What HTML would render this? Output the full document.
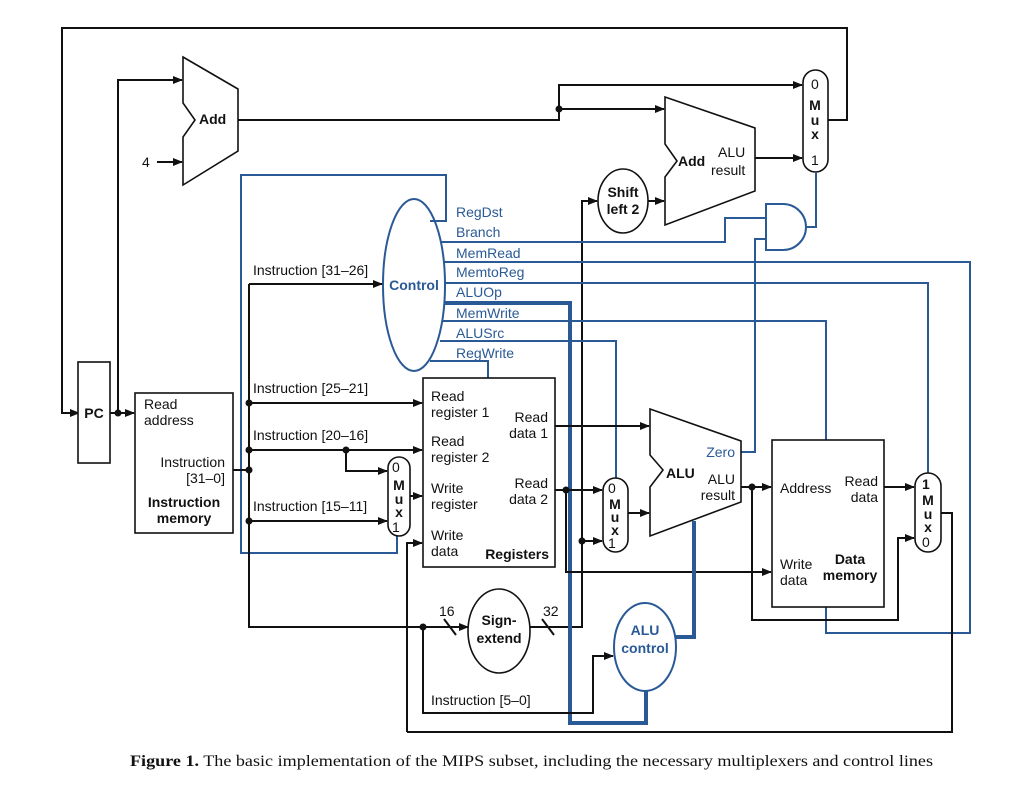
<!DOCTYPE html>
<html><head><meta charset="utf-8"><style>
html,body{margin:0;padding:0;background:#fff;}
svg{display:block;}
text{font-family:"Liberation Sans",Arial,sans-serif;font-size:14px;fill:#111;}
.b{font-weight:bold;}
.bl{fill:#2a5a96;}
.k{stroke:#111;stroke-width:2;fill:none;}
.kf{stroke:#111;stroke-width:1.6;fill:#fff;}
.u{stroke:#2a5a96;stroke-width:2;fill:none;}
.ut{stroke:#2a5a96;stroke-width:4;fill:none;}
</style></head><body>
<svg width="1024" height="796" viewBox="0 0 1024 796" xmlns="http://www.w3.org/2000/svg">
<defs>
<marker id="a" markerWidth="10" markerHeight="8" refX="9" refY="4" orient="auto" markerUnits="userSpaceOnUse"><path d="M0,0 L10,4 L0,8 z" fill="#111"/></marker>
</defs>
<rect width="1024" height="796" fill="#fff"/>

<!-- outer loop -->
<path class="k" d="M80,413 L62,413 L62,28 L847,28 L847,120 L828,120" />
<path class="k" d="M62,413 L79,413" marker-end="url(#a)"/>
<!-- PC -->
<rect class="kf" x="78" y="362" width="32" height="101"/>
<text x="94" y="418" text-anchor="middle" class="b">PC</text>
<path class="k" d="M110,413 L134,413" marker-end="url(#a)"/>
<circle cx="118" cy="413" r="3.5" fill="#111"/>
<path class="k" d="M118,413 L118,80 L182,80" marker-end="url(#a)"/>
<!-- Add -->
<path class="kf" d="M183,57 L238,89 L238,151 L183,185 L183,137 L195,120 L183,103 Z"/>
<text x="199" y="124" class="b">Add</text>
<text x="142" y="167">4</text>
<path class="k" d="M157,162 L182,162" marker-end="url(#a)"/>
<path class="k" d="M238,120 L559,120 L559,85 L802,85" marker-end="url(#a)"/>
<circle cx="559" cy="109" r="3.5" fill="#111"/>
<path class="k" d="M559,109 L664,109" marker-end="url(#a)"/>
<!-- branch add -->
<path class="kf" d="M665,97 L755,128 L755,191 L665,225 L665,177 L677,161 L665,144 Z"/>
<text x="678" y="166" class="b">Add</text>
<text x="718" y="157">ALU</text>
<text x="711" y="175">result</text>
<path class="k" d="M755,158 L802,158" marker-end="url(#a)"/>
<!-- top mux -->
<rect class="kf" x="803" y="70" width="25" height="102" rx="12.5"/>
<text x="811" y="89" font-size="13">0</text>
<text x="815" y="110" text-anchor="middle" class="b" font-size="13">M</text>
<text x="815" y="125" text-anchor="middle" class="b" font-size="13">u</text>
<text x="815" y="139" text-anchor="middle" class="b" font-size="13">x</text>
<text x="811" y="165" font-size="13">1</text>
<!-- shift left 2 -->
<ellipse class="kf" cx="623" cy="201" rx="25" ry="32"/>
<text x="623" y="197" text-anchor="middle" class="b">Shift</text>
<text x="623" y="214" text-anchor="middle" class="b">left 2</text>
<path class="k" d="M648,201 L664,201" marker-end="url(#a)"/>
<path class="k" d="M530,627 L582,627 L582,201 L597,201" marker-end="url(#a)"/>
<!-- AND gate -->
<path class="u" d="M766,204 L783,204 A23,23 0 0 1 783,250 L766,250 Z" fill="#fff"/>
<path class="u" d="M806,227 L816,227 L816,172"/>
<path class="u" d="M440,242 L725,242 L725,218 L766,218"/>
<path class="u" d="M735,452 L755,452 L755,239 L766,239"/>

<!-- Control -->
<path class="u" d="M430,221 L446,221 L446,175 L241,175 L241,553 L397,553 L397,536"/>
<ellipse cx="414" cy="285" rx="31" ry="86" fill="#fff" class="u" stroke-width="1.6"/>
<text x="414" y="290" text-anchor="middle" class="b bl">Control</text>
<path class="k" d="M249,284 L382,284" marker-end="url(#a)"/>
<text x="253" y="275">Instruction [31–26]</text>
<text x="456" y="217" class="bl">RegDst</text>
<text x="456" y="237" class="bl">Branch</text>
<text x="456" y="258" class="bl">MemRead</text>
<text x="456" y="277" class="bl">MemtoReg</text>
<text x="456" y="297" class="bl">ALUOp</text>
<text x="456" y="318" class="bl">MemWrite</text>
<text x="456" y="338" class="bl">ALUSrc</text>
<text x="456" y="358" class="bl">RegWrite</text>
<path class="u" d="M443,262 L970,262 L970,633 L826,633 L826,606"/>
<path class="u" d="M444,283 L928,283 L928,473"/>
<path class="ut" d="M445,303 L570,303 L570,723 L646,723 L646,691"/>
<path class="u" d="M443,321 L826,321 L826,440"/>
<path class="u" d="M440,341 L616,341 L616,478"/>
<path class="u" d="M430,361 L488,361 L488,378"/>

<!-- instruction memory -->
<rect class="kf" x="135" y="393" width="98" height="140"/>
<text x="144" y="409">Read</text>
<text x="144" y="425">address</text>
<text x="225" y="467" text-anchor="end">Instruction</text>
<text x="225" y="483" text-anchor="end">[31–0]</text>
<text x="184" y="507" text-anchor="middle" class="b">Instruction</text>
<text x="184" y="523" text-anchor="middle" class="b">memory</text>
<path class="k" d="M233,470 L249,470 M249,284 L249,627 L468,627" />
<path class="k" d="M460,627 L468,627" marker-end="url(#a)"/>
<circle cx="249" cy="403" r="3.5" fill="#111"/>
<circle cx="249" cy="450" r="3.5" fill="#111"/>
<circle cx="249" cy="470" r="3.5" fill="#111"/>
<circle cx="249" cy="521" r="3.5" fill="#111"/>
<text x="253" y="393">Instruction [25–21]</text>
<path class="k" d="M249,403 L422,403" marker-end="url(#a)"/>
<text x="253" y="440">Instruction [20–16]</text>
<path class="k" d="M249,450 L422,450" marker-end="url(#a)"/>
<circle cx="346" cy="450" r="3.5" fill="#111"/>
<path class="k" d="M346,450 L346,471 L387,471" marker-end="url(#a)"/>
<text x="253" y="511">Instruction [15–11]</text>
<path class="k" d="M249,521 L387,521" marker-end="url(#a)"/>
<!-- reg mux -->
<rect class="kf" x="388" y="457" width="22" height="79" rx="11"/>
<text x="392" y="472" font-size="13">0</text>
<text x="399" y="490" text-anchor="middle" class="b" font-size="13">M</text>
<text x="399" y="504" text-anchor="middle" class="b" font-size="13">u</text>
<text x="399" y="517" text-anchor="middle" class="b" font-size="13">x</text>
<text x="392" y="532" font-size="13">1</text>
<path class="k" d="M410,496 L422,496" marker-end="url(#a)"/>

<!-- registers -->
<rect class="kf" x="423" y="378" width="132" height="189"/>
<text x="431" y="401">Read</text>
<text x="431" y="417">register 1</text>
<text x="548" y="422" text-anchor="end">Read</text>
<text x="548" y="438" text-anchor="end">data 1</text>
<text x="431" y="446">Read</text>
<text x="431" y="462">register 2</text>
<text x="431" y="493">Write</text>
<text x="431" y="509">register</text>
<text x="548" y="488" text-anchor="end">Read</text>
<text x="548" y="504" text-anchor="end">data 2</text>
<text x="431" y="540">Write</text>
<text x="431" y="556">data</text>
<text x="549" y="559" text-anchor="end" class="b">Registers</text>
<path class="k" d="M407,732 L407,543 L422,543" marker-end="url(#a)"/>
<path class="k" d="M941,513 L952,513 L952,732 L407,732"/>

<!-- sign extend -->
<circle cx="423" cy="627" r="3.5" fill="#111"/>
<path class="k" d="M444,619 L456,635 M542,619 L554,635" stroke-width="1.6"/>
<text x="439" y="616">16</text>
<text x="543" y="616">32</text>
<ellipse class="kf" cx="499" cy="631" rx="31" ry="42"/>
<text x="499" y="625" text-anchor="middle" class="b">Sign-</text>
<text x="499" y="643" text-anchor="middle" class="b">extend</text>
<path class="k" d="M423,627 L423,713 L593,713 L593,656 L613,656" marker-end="url(#a)"/>
<text x="431" y="705">Instruction [5–0]</text>

<!-- ALU src mux -->
<path class="k" d="M555,426 L649,426" marker-end="url(#a)"/>
<path class="k" d="M555,490 L602,490" marker-end="url(#a)"/>
<circle cx="566" cy="490" r="3.5" fill="#111"/>
<path class="k" d="M566,490 L566,572 L771,572" marker-end="url(#a)"/>
<circle cx="582" cy="541" r="3.5" fill="#111"/>
<path class="k" d="M582,541 L602,541" marker-end="url(#a)"/>
<rect class="kf" x="603" y="478" width="25" height="74" rx="12.5"/>
<text x="608" y="493" font-size="13">0</text>
<text x="615" y="509" text-anchor="middle" class="b" font-size="13">M</text>
<text x="615" y="522" text-anchor="middle" class="b" font-size="13">u</text>
<text x="615" y="535" text-anchor="middle" class="b" font-size="13">x</text>
<text x="608" y="548" font-size="13">1</text>
<path class="k" d="M628,513 L649,513" marker-end="url(#a)"/>

<!-- ALU -->
<path class="kf" d="M650,409 L741,441 L741,502 L650,536 L650,487 L663,470 L650,455 Z"/>
<text x="666" y="478" class="b">ALU</text>
<text x="735" y="484" text-anchor="end">ALU</text>
<text x="735" y="500" text-anchor="end">result</text>
<text x="735" y="457" text-anchor="end" class="bl">Zero</text>
<path class="ut" d="M694,521 L694,637 L676,637"/>
<ellipse cx="645" cy="647" rx="31" ry="44" fill="#fff" class="u" stroke-width="1.6"/>
<text x="645" y="635" text-anchor="middle" class="b bl">ALU</text>
<text x="645" y="653" text-anchor="middle" class="b bl">control</text>

<path class="k" d="M741,487 L771,487" marker-end="url(#a)"/>
<circle cx="752" cy="487" r="3.5" fill="#111"/>
<path class="k" d="M752,487 L752,620 L898,620 L898,538 L914,538" marker-end="url(#a)"/>

<!-- data memory -->
<rect class="kf" x="772" y="440" width="112" height="167"/>
<text x="780" y="493">Address</text>
<text x="878" y="486" text-anchor="end">Read</text>
<text x="878" y="502" text-anchor="end">data</text>
<text x="780" y="569">Write</text>
<text x="780" y="585">data</text>
<text x="850" y="564" text-anchor="middle" class="b">Data</text>
<text x="850" y="580" text-anchor="middle" class="b">memory</text>
<path class="k" d="M884,487 L914,487" marker-end="url(#a)"/>
<rect class="kf" x="915" y="473" width="26" height="79" rx="13"/>
<text x="922" y="489" font-size="13" class="b">1</text>
<text x="928" y="505" text-anchor="middle" class="b" font-size="13">M</text>
<text x="928" y="519" text-anchor="middle" class="b" font-size="13">u</text>
<text x="928" y="532" text-anchor="middle" class="b" font-size="13">x</text>
<text x="922" y="547" font-size="13">0</text>

<text x="130" y="766" style="font-family:'Liberation Serif',serif;font-size:16px" textLength="803" lengthAdjust="spacingAndGlyphs"><tspan font-weight="bold">Figure 1.</tspan> The basic implementation of the MIPS subset, including the necessary multiplexers and control lines</text>
</svg>
</body></html>
